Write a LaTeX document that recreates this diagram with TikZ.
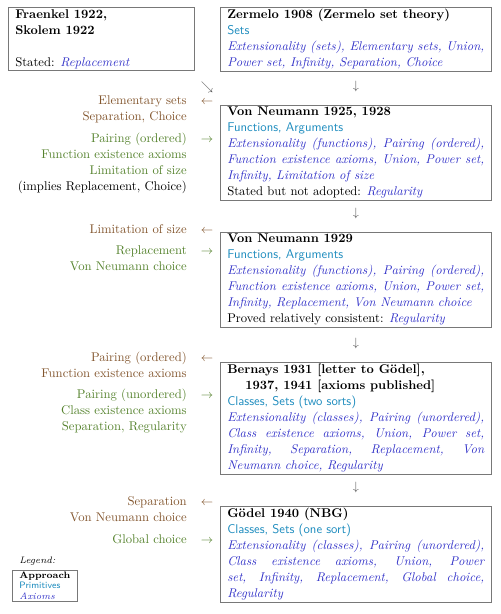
\documentclass[tikz,border=0pt]{standalone}
\usepackage{fontspec}
\hyphenpenalty=10000
\exhyphenpenalty=10000
\tolerance=9999
\definecolor{primc}{RGB}{30,140,190}
\definecolor{axmc}{RGB}{50,50,200}
\definecolor{remc}{RGB}{130,85,45}
\definecolor{addc}{RGB}{85,130,45}
\definecolor{framec}{RGB}{120,120,120}
\definecolor{arrc}{RGB}{90,90,90}
\newcommand\primtxt[1]{{\sffamily\color{primc}#1}}
\newcommand\axtxt[1]{{\itshape\color{axmc}#1}}
\newcommand\mainsize{\fontsize{9.5pt}{12pt}\selectfont}
\tikzset{
  rbox/.style={draw=framec, anchor=north west, inner xsep=5.25pt, inner ysep=1.5pt,
    text width=192.75pt, align=justify, font=\mainsize},
  lbox/.style={rbox, text width=129pt},
  remlab/.style={text=remc, align=right, anchor=base east, inner sep=0pt, font=\mainsize},
  addlab/.style={text=addc, align=right, anchor=base east, inner sep=0pt, font=\mainsize},
  larr/.style={text=remc, inner sep=0pt, anchor=base, font=\mainsize},
  rarr/.style={text=addc, inner sep=0pt, anchor=base, font=\mainsize},
  darr/.style={text=arrc, inner sep=0pt, font=\mainsize},
}
\begin{document}
\begin{tikzpicture}[x=0.75pt,y=-0.75pt]
\useasboundingbox (0,0) rectangle (500,614);
% first row
\node[lbox] (fs) at (8,7) {\textbf{Fraenkel 1922,}\\\textbf{Skolem 1922}\\\mbox{}\\Stated: \axtxt{Replacement}};
\node[rbox] (z) at (220,7) {\textbf{Zermelo 1908 (Zermelo set theory)}\\\primtxt{Sets}\\\axtxt{Extensionality (sets), Elementary sets, Union, Power set, Infinity, Separation, Choice}};
\node[darr] (a0) at (207,87) {$\searrow$};
\node[darr] (d1) at (356,86) {$\downarrow$};
% VN 1925
\node[remlab] (r1) at (187,120.2) {Elementary sets\\Separation, Choice};
\node[larr] (l1) at (207,104.2) {$\leftarrow$};
\node[rbox] (vn1) at (220,105) {\textbf{Von Neumann 1925, 1928}\\\primtxt{Functions, Arguments}\\\axtxt{Extensionality (functions), Pairing (ordered), Function existence axioms, Union, Power set, Infinity, Limitation of size}\\Stated but not adopted: \axtxt{Regularity}};
\node[addlab] (g1) at (187,190.5) {Pairing (ordered)\\Function existence axioms\\Limitation of size\\\textcolor{black}{(implies Replacement, Choice)}};
\node[rarr] (ra1) at (207,142.5) {$\rightarrow$};
\node[darr] (d2) at (356,213) {$\downarrow$};
% VN 1929
\node[remlab] (r2) at (187,233) {Limitation of size};
\node[larr] (l2) at (207,233) {$\leftarrow$};
\node[rbox] (vn2) at (220,232) {\textbf{Von Neumann 1929}\\\primtxt{Functions, Arguments}\\\axtxt{Extensionality (functions), Pairing (ordered), Function existence axioms, Union, Power set, Infinity, Replacement, Von Neumann choice}\\Proved relatively consistent: \axtxt{Regularity}};
\node[addlab] (g2) at (187,270.5) {Replacement\\Von Neumann choice};
\node[rarr] (ra2) at (207,254.5) {$\rightarrow$};
\node[darr] (d3) at (356,343) {$\downarrow$};
% Bernays
\node[remlab] (r3) at (187,377.2) {Pairing (ordered)\\Function existence axioms};
\node[larr] (l3) at (207,361.2) {$\leftarrow$};
\node[rbox] (b) at (220,362) {\textbf{Bernays 1931 [letter to G\"odel],}\\\hspace*{13.5pt}\textbf{1937, 1941 [axioms published]}\\\primtxt{Classes, Sets (two sorts)}\\\axtxt{Extensionality (classes), Pairing (unordered), Class existence axioms, Union, Power set, Infinity, Separation, Replacement, Von Neumann choice, Regularity}};
\node[addlab] (g3) at (187,430.5) {Pairing (unordered)\\Class existence axioms\\Separation, Regularity};
\node[rarr] (ra3) at (207,398.5) {$\rightarrow$};
\node[darr] (d4) at (356,487) {$\downarrow$};
% Goedel
\node[remlab] (r4) at (187,521.8) {Separation\\Von Neumann choice};
\node[larr] (l4) at (207,505.8) {$\leftarrow$};
\node[rbox] (gd) at (220,506) {\textbf{G\"odel 1940 (NBG)}\\\primtxt{Classes, Sets (one sort)}\\\axtxt{Extensionality (classes), Pairing (unordered), Class existence axioms, Union, Power set, Infinity, Replacement, Global choice, Regularity}};
\node[addlab] (g4) at (187,543.8) {Global choice};
\node[rarr] (ra4) at (207,543.8) {$\rightarrow$};
% legend
\node[anchor=west, inner sep=0pt, font=\fontsize{7pt}{8pt}\selectfont\itshape] (lg) at (19,561) {Legend:};
\node[draw=framec, anchor=north west, inner xsep=5.25pt, inner ysep=1pt, align=left, font=\fontsize{7pt}{8pt}\selectfont] (lgb) at (12,570) {\textbf{Approach}\\\primtxt{Primitives}\\\axtxt{Axioms}};
\end{tikzpicture}
\end{document}
